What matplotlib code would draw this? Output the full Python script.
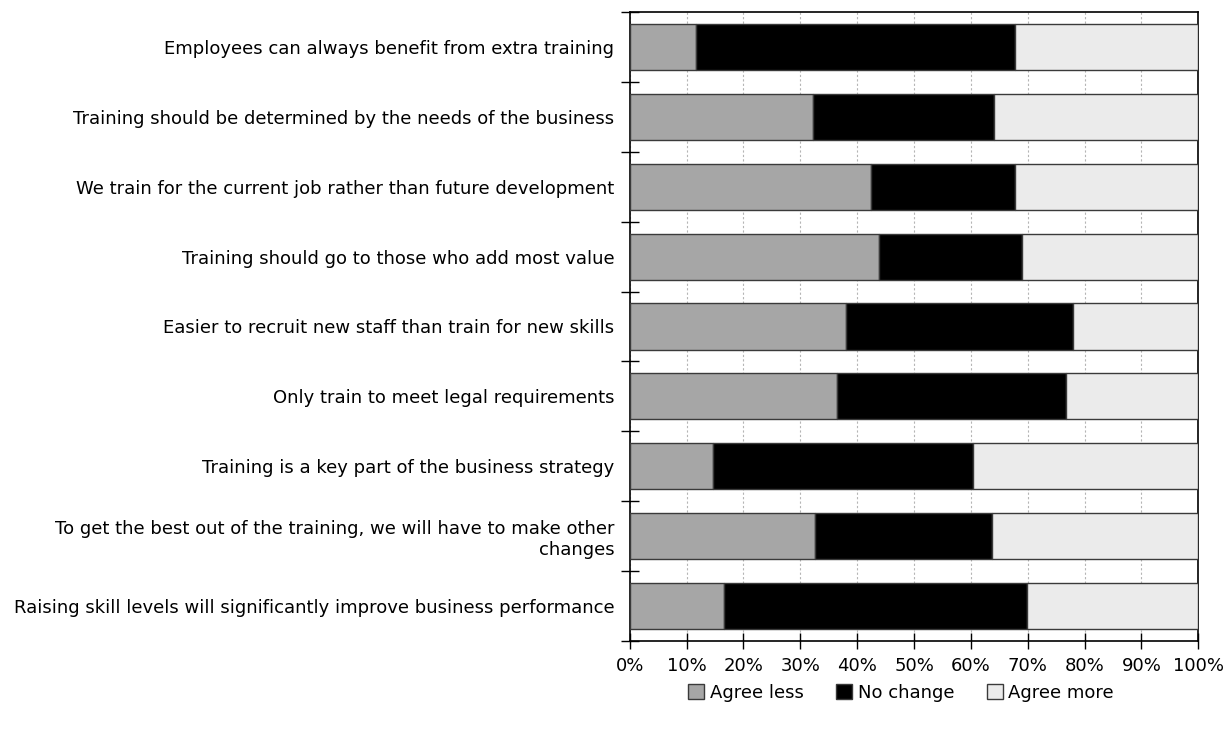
import matplotlib
matplotlib.use('Agg')
from matplotlib import pyplot as plt
from matplotlib.ticker import FixedLocator, PercentFormatter

statements = [
    'Employees can always benefit from extra training',
    'Training should be determined by the needs of the business',
    'We train for the current job rather than future development',
    'Training should go to those who add most value',
    'Easier to recruit new staff than train for new skills',
    'Only train to meet legal requirements',
    'Training is a key part of the business strategy',
    'To get the best out of the training, we will have to make other\nchanges',
    'Raising skill levels will significantly improve business performance',
]
agree_less = [11.6, 32.3, 42.4, 43.8, 38.0, 36.5, 14.6, 32.6, 16.5]
no_change = [56.2, 31.8, 25.4, 25.2, 40.0, 40.3, 45.7, 31.2, 53.4]
agree_more = [100 - a - b for a, b in zip(agree_less, no_change)]

series = [('Agree less', agree_less, '#a6a6a6'),
          ('No change', no_change, '#000000'),
          ('Agree more', agree_more, '#ebebeb')]

plt.rcParams['font.family'] = 'DejaVu Sans'

fig = plt.figure(figsize=(12.29, 7.35), dpi=100)
ax = fig.add_axes([0.5124, 0.1279, 0.4626, 0.8558])

y = list(range(len(statements)))
left = [0] * len(statements)
for name, vals, col in series:
    ax.barh(y, vals, left=left, height=0.66, color=col, edgecolor='#3a3a3a',
            linewidth=1, label=name, zorder=3)
    left = [l + v for l, v in zip(left, vals)]

ax.set_xlim(0, 100)
ax.set_ylim(len(statements) - 0.5, -0.5)
ax.xaxis.set_major_locator(FixedLocator(range(0, 101, 10)))
ax.xaxis.set_major_formatter(PercentFormatter(decimals=0))
ax.grid(axis='x', color='#b5b5b5', linestyle=(0, (2, 2)), linewidth=0.8, zorder=0)

# category boundaries as ticks, labels on minor ticks at centres
ax.yaxis.set_major_locator(FixedLocator([i - 0.5 for i in range(len(statements) + 1)]))
ax.yaxis.set_major_formatter(plt.NullFormatter())
ax.yaxis.set_minor_locator(FixedLocator(y))
ax.set_yticklabels(statements, minor=True, fontsize=13)
ax.tick_params(axis='y', which='major', direction='inout', length=13, width=1)
ax.tick_params(axis='y', which='minor', length=0, pad=11)
ax.tick_params(axis='x', direction='inout', length=11, width=1, labelsize=13, pad=6)

for s in ax.spines.values():
    s.set_linewidth(1.2)
    s.set_color('black')

fig.legend(loc='center', bbox_to_anchor=(0.733, 0.057), ncol=3, frameon=False,
           fontsize=13, handlelength=0.9, handleheight=0.9, handletextpad=0.3,
           columnspacing=1.8)

fig.savefig('out.png', dpi=100)
